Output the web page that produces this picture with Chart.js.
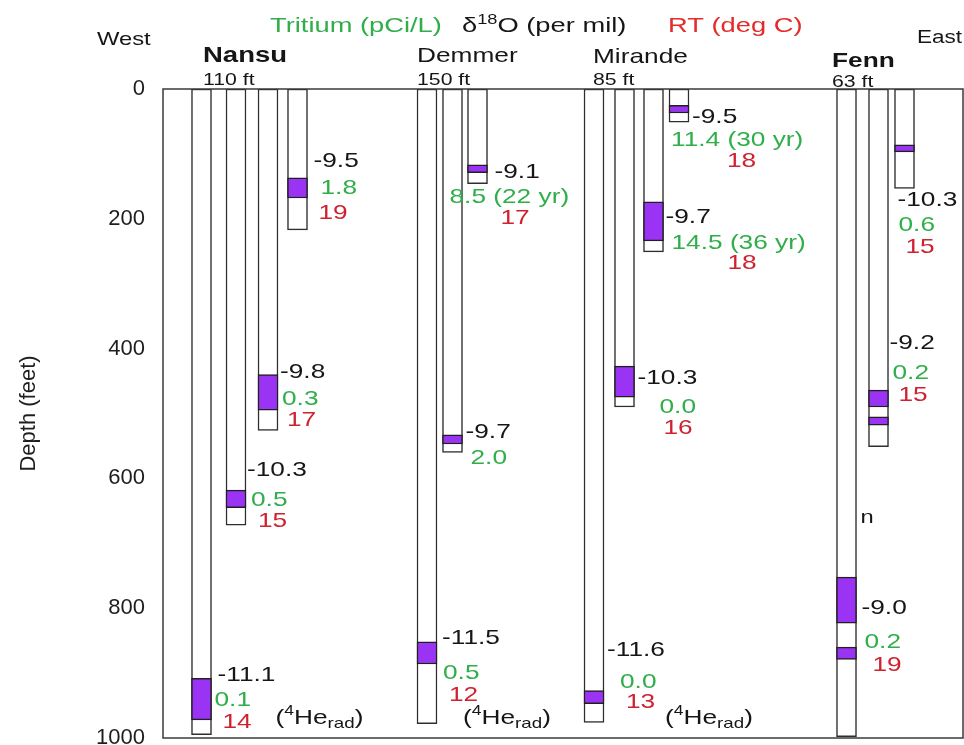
<!DOCTYPE html>
<html>
<head>
<meta charset="utf-8">
<script src="https://cdn.jsdelivr.net/npm/chart.js@4.4.1/dist/chart.umd.min.js"></script>
<style>
  html, body { margin: 0; padding: 0; background: #fff; }
  canvas { display: block; }
</style>
</head>
<body>
<canvas id="section" width="964" height="745"></canvas>
<script>
// ---- Wells along the west-east section ----
const wellNames = ['Nansu', 'Demmer', 'Mirande', 'Fenn'];
const wellTags = ['110 ft', '150 ft', '85 ft', '63 ft'];

// ---- Piezometer pipes: owning well and bottom depth (ft) ----
const pipeWell = [0, 0, 0, 0, 1, 1, 1, 2, 2, 2, 2, 3, 3, 3];
const pipeBottom = [995, 672, 526, 217, 978, 560, 146, 976, 490, 251, 51, 998, 551, 153];

// ---- Screened intervals: pipe index, top and bottom depth (ft) ----
const screenPipe = [0, 1, 2, 3, 4, 5, 6, 7, 8, 9, 10, 11, 11, 12, 12, 13];
const screenTop = [908, 618, 440, 137, 852, 533, 117, 927, 427, 174, 25, 752, 860, 464, 505, 86];
const screenBottom = [972, 645, 495, 168, 886, 547, 129, 947, 475, 234, 37, 823, 879, 490, 518, 97];

// ---- Sample results, one per pipe ----
const d18O = [-11.1, -10.3, -9.8, -9.5, -11.5, -9.7, -9.1, -11.6, -10.3, -9.7, -9.5, -9.0, -9.2, -10.3];
const tritium = [0.1, 0.5, 0.3, 1.8, 0.5, 2.0, 8.5, 0.0, 0.0, 14.5, 11.4, 0.2, 0.2, 0.6];
const tritiumAge = [null, null, null, null, null, null, 22, null, null, 36, 30, null, null, null];
const rechargeTemp = [14, 15, 17, 19, 12, null, 17, 13, 16, 18, 18, 19, 15, 15];
const radiogenicHe = [true, false, false, false, true, false, false, true, false, false, false, false, false, false];

// ---- Depth axis ticks (ft) ----
const depthTicks = [0, 200, 400, 600, 800, 1000];

// ---- Layout: pipe positions along the section (0-800 units) ----
const pipeX = [38.5, 73, 105, 134.5, 264, 289.5, 314.5, 431, 461.5, 490.5, 516, 683.5, 715.5, 741.5];
const wellLabelX = [40, 254, 430, 669];
const wellNameBase = [62, 62, 63, 67];
const wellTagBase = [85, 85, 85, 87];
const wellNameSize = [22, 21, 21, 21];
const wellNameBold = [true, false, false, true];

// Text placement per pipe: depth of each line [d18O, tritium, RT] and x offset from the pipe's right edge
const labelDepth = [
  [903, 941, 975], [587, 633, 666], [436, 478, 510], [111, 153, 191],
  [846, 900, 934], [529, 569, null], [128, 166, 199],
  [864, 914, 945], [445, 490, 522], [197, 237, 268], [43, 79, 112],
  [800, 852, 888], [391, 438, 472], [171, 210, 243]
];
const labelDx = [
  [6, 3, 11], [1, 5, 12], [2, 4, 9], [6, 13, 11],
  [5, 6, 12], [3, 8, 0], [7, -38, 13],
  [3, 16, 22], [3, 25, 29], [2, 8, 64], [3, -18, 38],
  [5, 8, 16], [1, 4, 10], [-17, -16, -9]
];
const heDepth = 969;
const heDx = [64, 0, 0, 0, 26, 0, 0, 61, 0, 0, 0, 0, 0, 0];

const FONT = '"Liberation Sans", Arial, sans-serif';
const INK = '#161616';
const GREEN = '#2fae4a';
const RED = '#cf2230';
const PURPLE = '#9a33f4';
const SX = 1.25;   // horizontal stretch of the lettering
const HALF_PIPE = 10;

function txt(ctx, s, x, y, size, color, opts) {
  opts = opts || {};
  ctx.save();
  ctx.font = (opts.bold ? 'bold ' : '') + size + 'px ' + FONT;
  ctx.fillStyle = color;
  ctx.textBaseline = opts.baseline || 'middle';
  ctx.textAlign = 'left';
  const sx = opts.sx || SX;
  ctx.translate(x, y);
  ctx.scale(sx, 1);
  ctx.fillText(s, 0, 0);
  const w = ctx.measureText(s).width * sx;
  ctx.restore();
  return w;
}

// (4He rad) note with superscript and subscript
function heNote(ctx, x, y) {
  let cx = x;
  cx += txt(ctx, '(', cx, y, 21, INK);
  cx += txt(ctx, '4', cx, y - 7, 14, INK);
  cx += txt(ctx, 'He', cx, y, 21, INK);
  cx += txt(ctx, 'rad', cx, y + 6, 15, INK);
  txt(ctx, ')', cx, y, 21, INK);
}

const sectionText = {
  id: 'sectionText',
  afterDatasetsDraw(chart) {
    const { ctx, scales: { x, y } } = chart;

    // well names and tags
    wellNames.forEach((name, i) => {
      const px = x.getPixelForValue(wellLabelX[i]);
      txt(ctx, name, px, wellNameBase[i], wellNameSize[i], INK, { bold: wellNameBold[i], baseline: 'alphabetic' });
      txt(ctx, wellTags[i], px, wellTagBase[i], 17, INK, { baseline: 'alphabetic' });
    });

    // sample annotations beside each pipe
    d18O.forEach((v, i) => {
      const right = x.getPixelForValue(pipeX[i]) + HALF_PIPE;
      const dep = labelDepth[i];
      const dx = labelDx[i];
      txt(ctx, v.toFixed(1), right + dx[0], y.getPixelForValue(dep[0]), 21, INK);
      let t = tritium[i].toFixed(1);
      if (tritiumAge[i] !== null) t += ' (' + tritiumAge[i] + ' yr)';
      txt(ctx, t, right + dx[1], y.getPixelForValue(dep[1]), 21, GREEN);
      if (rechargeTemp[i] !== null) {
        txt(ctx, String(rechargeTemp[i]), right + dx[2], y.getPixelForValue(dep[2]), 21, RED);
      }
      if (radiogenicHe[i]) heNote(ctx, right + heDx[i], y.getPixelForValue(heDepth));
    });

    // small stray glyph beside the Fenn deep pipe
    txt(ctx, 'n', x.getPixelForValue(pipeX[11]) + HALF_PIPE + 4, y.getPixelForValue(660), 19, INK);
  },
  afterDraw(chart) {
    const { ctx, chartArea: a } = chart;
    // frame around the section
    ctx.save();
    ctx.strokeStyle = '#3a3a3a';
    ctx.lineWidth = 1.5;
    ctx.strokeRect(a.left, a.top, a.right - a.left, a.bottom - a.top);
    ctx.restore();

    // header: orientation and legend of the three tracers
    txt(ctx, 'West', 97, 45, 19, INK, { baseline: 'alphabetic' });
    txt(ctx, 'East', 917, 43, 18, INK, { baseline: 'alphabetic' });
    txt(ctx, 'Tritium (pCi/L)', 270, 32, 21, GREEN, { baseline: 'alphabetic', sx: 1.3 });
    let cx = 462;
    cx += txt(ctx, '\u03B4', cx, 32, 21, INK, { baseline: 'alphabetic', sx: 1.3 });
    cx += txt(ctx, '18', cx, 24, 14, INK, { baseline: 'alphabetic', sx: 1.3 });
    txt(ctx, 'O (per mil)', cx, 32, 21, INK, { baseline: 'alphabetic', sx: 1.3 });
    txt(ctx, 'RT (deg C)', 668, 32, 21, '#e42a2a', { baseline: 'alphabetic', sx: 1.3 });
  }
};

new Chart(document.getElementById('section'), {
  type: 'bar',
  data: {
    datasets: [
      {
        label: 'Screened interval',
        data: screenPipe.map((p, i) => ({ x: pipeX[p], y: [screenTop[i], screenBottom[i]] })),
        backgroundColor: PURPLE,
        borderColor: '#202020',
        borderWidth: 1.5,
        borderSkipped: false,
        barThickness: 2 * HALF_PIPE,
        grouped: false,
        order: 0
      },
      {
        label: 'Pipe',
        data: pipeBottom.map((b, i) => ({ x: pipeX[i], y: [0, b] })),
        backgroundColor: '#ffffff',
        borderColor: '#2e2e2e',
        borderWidth: 1.5,
        borderSkipped: false,
        barThickness: 2 * HALF_PIPE,
        grouped: false,
        order: 1
      }
    ]
  },
  options: {
    responsive: false,
    animation: false,
    devicePixelRatio: 1,
    events: [],
    layout: { padding: { top: 89, bottom: 7, left: 0, right: 1 } },
    plugins: { legend: { display: false }, tooltip: { enabled: false } },
    scales: {
      x: { type: 'linear', min: 0, max: 800, offset: false, display: false },
      y: {
        type: 'linear',
        reverse: true,
        min: 0,
        max: 1000,
        afterFit(scale) {
          scale.width = 163;
          scale.paddingTop = 0;
          scale.paddingBottom = 0;
        },
        afterBuildTicks(scale) { scale.ticks = depthTicks.map(v => ({ value: v })); },
        grid: { display: false, drawTicks: false },
        border: { display: false },
        ticks: {
          font: { family: FONT, size: 22 },
          color: '#1e1e1e',
          padding: 18,
          callback: v => String(v)
        },
        title: {
          display: true,
          text: 'Depth (feet)',
          font: { family: FONT, size: 22 },
          color: '#1e1e1e',
          padding: { top: 16, bottom: 0 }
        }
      }
    }
  },
  plugins: [sectionText]
});
</script>
</body>
</html>
